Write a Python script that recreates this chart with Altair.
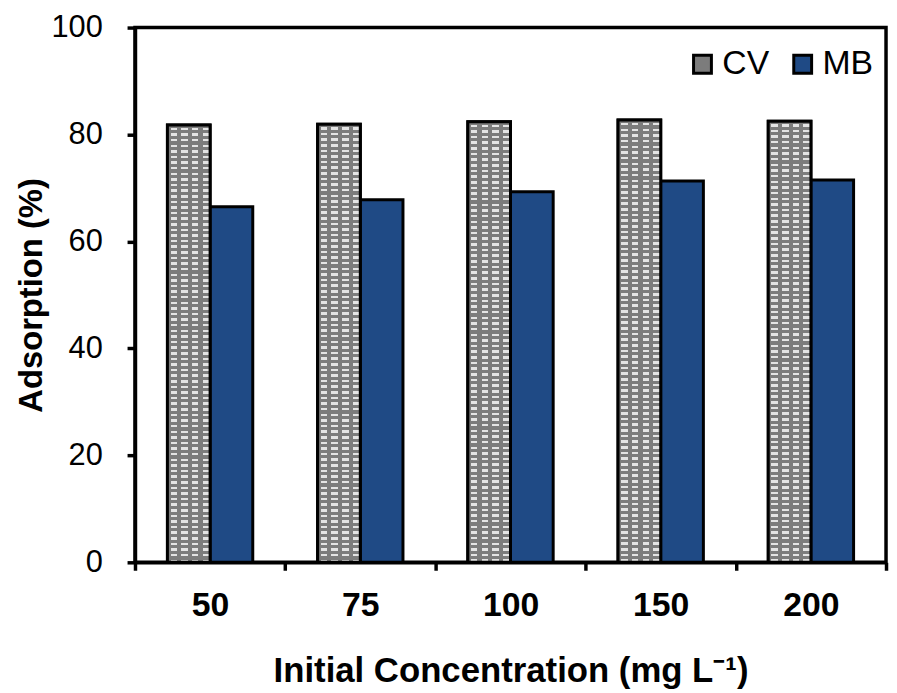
import altair as alt
import pandas as pd

conc = ["50", "75", "100", "150", "200"]
cv = [81.8, 81.9, 82.4, 82.7, 82.5]
mb = [66.5, 67.8, 69.3, 71.3, 71.5]
series = ["CV", "MB"]

rows = []
for c, a, b in zip(conc, cv, mb):
    rows.append({"conc": c, "series": "CV", "value": a})
    rows.append({"conc": c, "series": "MB", "value": b})
df = pd.DataFrame(rows)

FONT = "Liberation Sans"
GRAY = "#7c7c7c"
LIGHT = "#e4e4e4"
BLUE = "#1f4a85"
CLEAR = "rgba(0,0,0,0)"

# horizontal light rows
rs = []
N = 78
for k in range(N):
    o = k / N
    rs.append(alt.GradientStop(offset=o, color=GRAY))
    rs.append(alt.GradientStop(offset=o + 0.5 / N, color=GRAY))
    rs.append(alt.GradientStop(offset=o + 0.5 / N, color=LIGHT))
    rs.append(alt.GradientStop(offset=o + 0.95 / N, color=LIGHT))
    rs.append(alt.GradientStop(offset=o + 0.95 / N, color=GRAY))
rs.append(alt.GradientStop(offset=1, color=GRAY))
rows_fill = alt.Gradient(gradient="linear", stops=rs, x1=0, x2=0, y1=0, y2=1)

# vertical gray columns that break the rows into dashes
cs = []
M = 4
for k in range(M):
    o = k / M
    cs.append(alt.GradientStop(offset=o, color=GRAY))
    cs.append(alt.GradientStop(offset=o + 0.3 / M, color=GRAY))
    cs.append(alt.GradientStop(offset=o + 0.3 / M, color=CLEAR))
    cs.append(alt.GradientStop(offset=o + 0.9 / M, color=CLEAR))
    cs.append(alt.GradientStop(offset=o + 0.9 / M, color=GRAY))
cs.append(alt.GradientStop(offset=1, color=GRAY))
cols_fill = alt.Gradient(gradient="linear", stops=cs, x1=0, x2=1, y1=0, y2=0)

x_enc = alt.X(
    "conc:N",
    sort=conc,
    scale=alt.Scale(paddingInner=0, paddingOuter=0),
    axis=alt.Axis(
        title="Initial Concentration (mg L⁻¹)",
        labelAngle=0,
        labelFont=FONT,
        labelFontSize=34,
        labelFontWeight="bold",
        labelPadding=19,
        titleFont=FONT,
        titleFontSize=35,
        titleFontWeight="bold",
        titlePadding=31,
        tickBand="extent",
    ),
)
xo_enc = alt.XOffset("series:N", scale=alt.Scale(domain=series, paddingInner=0, paddingOuter=0.76))
y_enc = alt.Y(
    "value:Q",
    scale=alt.Scale(domain=[0, 100]),
    axis=alt.Axis(
        title="Adsorption (%)",
        values=[0, 20, 40, 60, 80, 100],
        labelFont=FONT,
        labelFontSize=31,
        labelPadding=25,
        titleFont=FONT,
        titleFontSize=33,
        titleFontWeight="bold",
        titlePadding=3,
        grid=False,
    ),
)

base = alt.Chart(df).mark_bar(stroke="black", strokeWidth=3).encode(
    x=x_enc,
    xOffset=xo_enc,
    y=y_enc,
    color=alt.Color(
        "series:N",
        scale=alt.Scale(domain=series, range=[GRAY, BLUE]),
        legend=alt.Legend(
            title=None,
            orient="none",
            direction="horizontal",
            legendX=555,
            legendY=20,
            labelFont=FONT,
            labelFontSize=34,
            labelOffset=3,
            columnPadding=16,
            symbolType="square",
            symbolSize=324,
            symbolStrokeColor="black",
            symbolStrokeWidth=3,
            symbolOpacity=1,
        ),
    ),
)

cv_rows = (
    alt.Chart(df)
    .transform_filter(alt.datum.series == "CV")
    .mark_bar(strokeWidth=0, fill=rows_fill)
    .encode(x=x_enc, xOffset=xo_enc, y=y_enc)
)
cv_cols = (
    alt.Chart(df)
    .transform_filter(alt.datum.series == "CV")
    .mark_bar(stroke="black", strokeWidth=3, fill=cols_fill)
    .encode(x=x_enc, xOffset=xo_enc, y=y_enc)
)

chart = (
    alt.layer(base, cv_rows, cv_cols)
    .properties(
        width=757,
        height=539,
        autosize=alt.AutoSizeParams(type="none"),
        padding={"left": 128, "top": 17, "right": 3, "bottom": 129},
    )
    .configure_view(stroke="black", strokeWidth=3.5)
    .configure_axis(
        domainColor="black",
        domainWidth=3.5,
        tickColor="black",
        tickWidth=3.5,
        tickSize=8,
        labelColor="black",
        titleColor="black",
    )
)

chart.save("out.html", embed_options={"renderer": "svg", "actions": False})
